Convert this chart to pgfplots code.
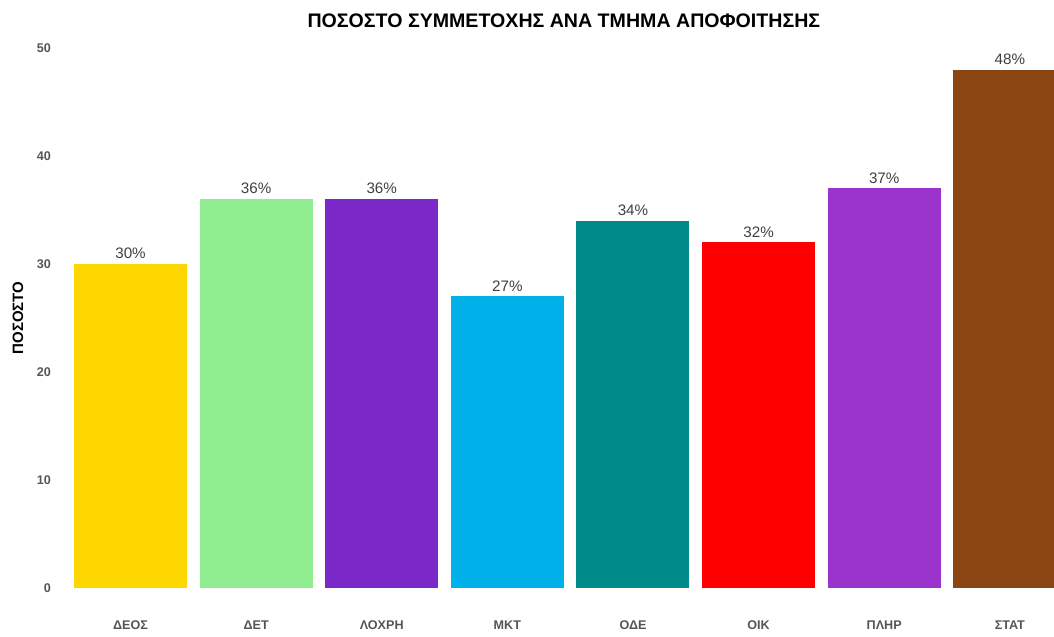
\documentclass[border=0pt]{standalone}
\usepackage{pgfplots}
\pgfplotsset{compat=1.18}
\usepackage{fontspec}
\setmainfont{Liberation Sans}

\definecolor{cDEOS}{HTML}{FFD700}
\definecolor{cDET}{HTML}{90EE90}
\definecolor{cLOXRH}{HTML}{7B28C8}
\definecolor{cMKT}{HTML}{00B0E8}
\definecolor{cODE}{HTML}{008A8A}
\definecolor{cOIK}{HTML}{FF0000}
\definecolor{cPLHR}{HTML}{9933CC}
\definecolor{cSTAT}{HTML}{8B4513}
\definecolor{tickgray}{HTML}{555555}

\begin{document}
\begin{tikzpicture}
\begin{axis}[
    scale only axis,
    width=490pt, height=270pt,
    ybar, bar width=56.5pt, bar shift=0pt,
    xmin=-0.45, xmax=7.35,
    ymin=0, ymax=50,
    ytick={0,10,...,50},
    xtick={0,...,7},
    xticklabels={ΔΕΟΣ,ΔΕΤ,ΛΟΧΡΗ,ΜΚΤ,ΟΔΕ,ΟΙΚ,ΠΛΗΡ,ΣΤΑΤ},
    axis line style={draw=none},
    major tick length=0pt,
    /pgf/number format/assume math mode=true,
    tick label style={font=\fontsize{6.3}{7}\selectfont\bfseries, text=tickgray},
    yticklabel style={xshift=-8pt},
    xticklabel style={yshift=-13pt},
    ylabel={ΠΟΣΟΣΤΟ},
    ylabel style={font=\fontsize{7.5}{9}\selectfont\bfseries, yshift=0pt},
    title={ΠΟΣΟΣΤΟ ΣΥΜΜΕΤΟΧΗΣ ΑΝΑ ΤΜΗΜΑ ΑΠΟΦΟΙΤΗΣΗΣ},
    title style={font=\fontsize{9.8}{11}\selectfont\bfseries, yshift=0.5pt},
    nodes near coords={\pgfmathprintnumber{\pgfplotspointmeta}\%},
    every node near coord/.append style={font=\fontsize{7.6}{9}\selectfont, text=black!75, yshift=-1pt},
]
\addplot[draw=none, fill=cDEOS] coordinates {(0,30)};
\addplot[draw=none, fill=cDET] coordinates {(1,36)};
\addplot[draw=none, fill=cLOXRH] coordinates {(2,36)};
\addplot[draw=none, fill=cMKT] coordinates {(3,27)};
\addplot[draw=none, fill=cODE] coordinates {(4,34)};
\addplot[draw=none, fill=cOIK] coordinates {(5,32)};
\addplot[draw=none, fill=cPLHR] coordinates {(6,37)};
\addplot[draw=none, fill=cSTAT] coordinates {(7,48)};
\end{axis}
\path ([yshift=24pt]current axis.north) ([yshift=-22pt]current axis.south)
      ([xshift=-37pt]current axis.south west);
\end{tikzpicture}
\end{document}
